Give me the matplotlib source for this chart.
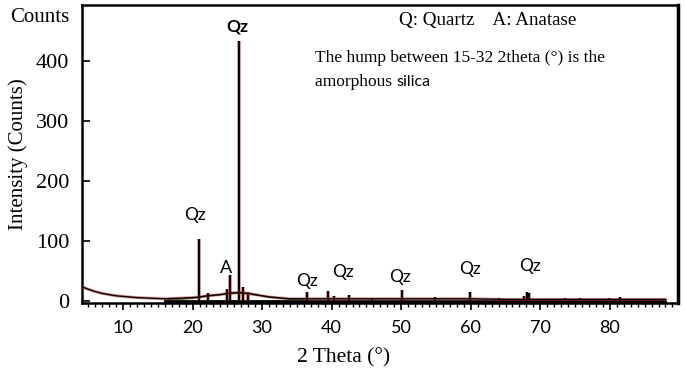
import matplotlib
matplotlib.use("Agg")
import matplotlib.pyplot as plt
from matplotlib.ticker import MultipleLocator

# ---- data ----
bg_x = [4.1, 5.0, 6.0, 7.0, 8.0, 9.0, 10.0, 12.0, 14.0, 16.0, 18.0, 20.0, 21.0, 22.0,
        23.0, 24.0, 25.0, 26.0, 27.0, 28.0, 29.0, 30.0, 31.0, 32.0, 33.0, 34.0, 36.0,
        40.0, 45.0, 50.0, 55.0, 60.0, 65.0, 70.0, 75.0, 80.0, 85.0, 88.0]
bg_y = [23, 19, 15, 12, 10, 8, 7, 5, 4, 3, 4, 5, 6, 8,
        9, 10, 12, 13, 13, 12, 10, 8, 6, 5, 4, 3, 3,
        3, 3, 3, 3, 3, 2, 2, 2, 2, 2, 2]

hump_x = [16.0, 18.0, 20.0, 22.0, 24.0, 26.0, 27.0, 28.0, 30.0, 32.0, 34.0, 36.0]
hump_y = [1, 2, 4, 7, 10, 12, 12, 11, 8, 5, 2, 1]

peak_pos = [20.86, 22.2, 24.9, 25.4, 26.64, 27.3, 28.0, 36.5, 39.45, 40.3, 42.45, 45.8,
            50.14, 54.9, 59.96, 64.0, 67.7, 68.1, 68.35, 73.5, 75.7, 77.6, 79.9, 81.5]
peak_h = [102, 12, 20, 43, 433, 22, 14, 14, 16, 8, 10, 5,
          18, 6, 15, 4, 8, 15, 12, 4, 5, 3, 4, 6]

qz_label_x = [20.35, 26.5, 36.4, 41.6, 49.8, 59.9, 68.5]
qz_label_y = [143, 457, 32, 48, 40, 52, 58]
qz_bold = [False, True, False, False, False, False, False]
a_label_x, a_label_y = 24.8, 55

x_ticks = [10, 20, 30, 40, 50, 60, 70, 80]
y_ticks = [0, 100, 200, 300, 400]

serif = ["Liberation Serif", "DejaVu Serif"]
sans = ["Lato", "DejaVu Sans"]

fig = plt.figure(figsize=(6.85, 3.70), dpi=100)
ax = fig.add_axes([82 / 685, 67 / 370, 596 / 685, 298 / 370])

# hump and baseline
ax.plot(hump_x, hump_y, color="#2e8b2e", lw=1.0, zorder=2)
ax.plot([16.0, 88.0], [0, 0], color="black", lw=2.0, zorder=2)

# peaks
ax.vlines(peak_pos, 0, peak_h, colors="#c03030", lw=2.6, zorder=3, alpha=0.6)
ax.vlines(peak_pos, 0, peak_h, colors="black", lw=1.4, zorder=4)

# background trace
ax.plot(bg_x, bg_y, color="#c03030", lw=2.2, alpha=0.5, zorder=4)
ax.plot(bg_x, bg_y, color="black", lw=1.0, zorder=5)

for x, y, b in zip(qz_label_x, qz_label_y, qz_bold):
    ax.text(x, y, "Qz", ha="center", va="center", family=sans, fontsize=12.5,
            fontweight="bold" if b else "normal")
ax.text(a_label_x, a_label_y, "A", ha="center", va="center", family=sans, fontsize=13)

ax.set_xlim(4.1, 89.8)
ax.set_ylim(-4, 493)
ax.set_xticks(x_ticks)
ax.set_yticks(y_ticks)
ax.xaxis.set_minor_locator(MultipleLocator(1))
ax.tick_params(axis="x", which="major", direction="out", length=5, width=1.2,
               labelsize=13, pad=7)
ax.tick_params(axis="x", which="minor", direction="out", length=3, width=1.0)
ax.tick_params(axis="y", which="major", direction="in", length=6, width=1.2,
               labelsize=16, pad=9)
for lab in ax.get_xticklabels():
    lab.set_family(sans)
for lab in ax.get_yticklabels():
    lab.set_family(serif)

for side, w in [("left", 1.8), ("bottom", 1.8), ("top", 1.8), ("right", 2.5)]:
    ax.spines[side].set_linewidth(w)
    ax.spines[side].set_color("black")

ax.set_xlabel("2 Theta (°)", family=serif, fontsize=15.5, labelpad=6)
ax.xaxis.set_label_coords((344 - 82) / 596, -0.15)
ax.set_ylabel("Intensity (Counts)", family=serif, fontsize=15, labelpad=6)

fig.text(10 / 685, 1 - 18 / 370, "Counts", family=serif, fontsize=15, va="center", ha="left")
fig.text(399 / 685, 1 - 21 / 370, "Q: Quartz    A: Anatase", family=serif, fontsize=13.7,
         va="center", ha="left")
fig.text(315 / 685, 1 - 58 / 370, "The hump between 15-32 2theta (\u00b0) is the",
         family=serif, fontsize=12.5, va="center", ha="left")
t = fig.text(315 / 685, 1 - 82 / 370, "amorphous ", family=serif, fontsize=12.5,
             va="center", ha="left")
fig.canvas.draw()
bb = t.get_window_extent()
fig.text(bb.x1 / 685, 1 - 82 / 370, "silica", family=sans, fontsize=11.5,
         va="center", ha="left")

fig.savefig("out.png", dpi=100)
